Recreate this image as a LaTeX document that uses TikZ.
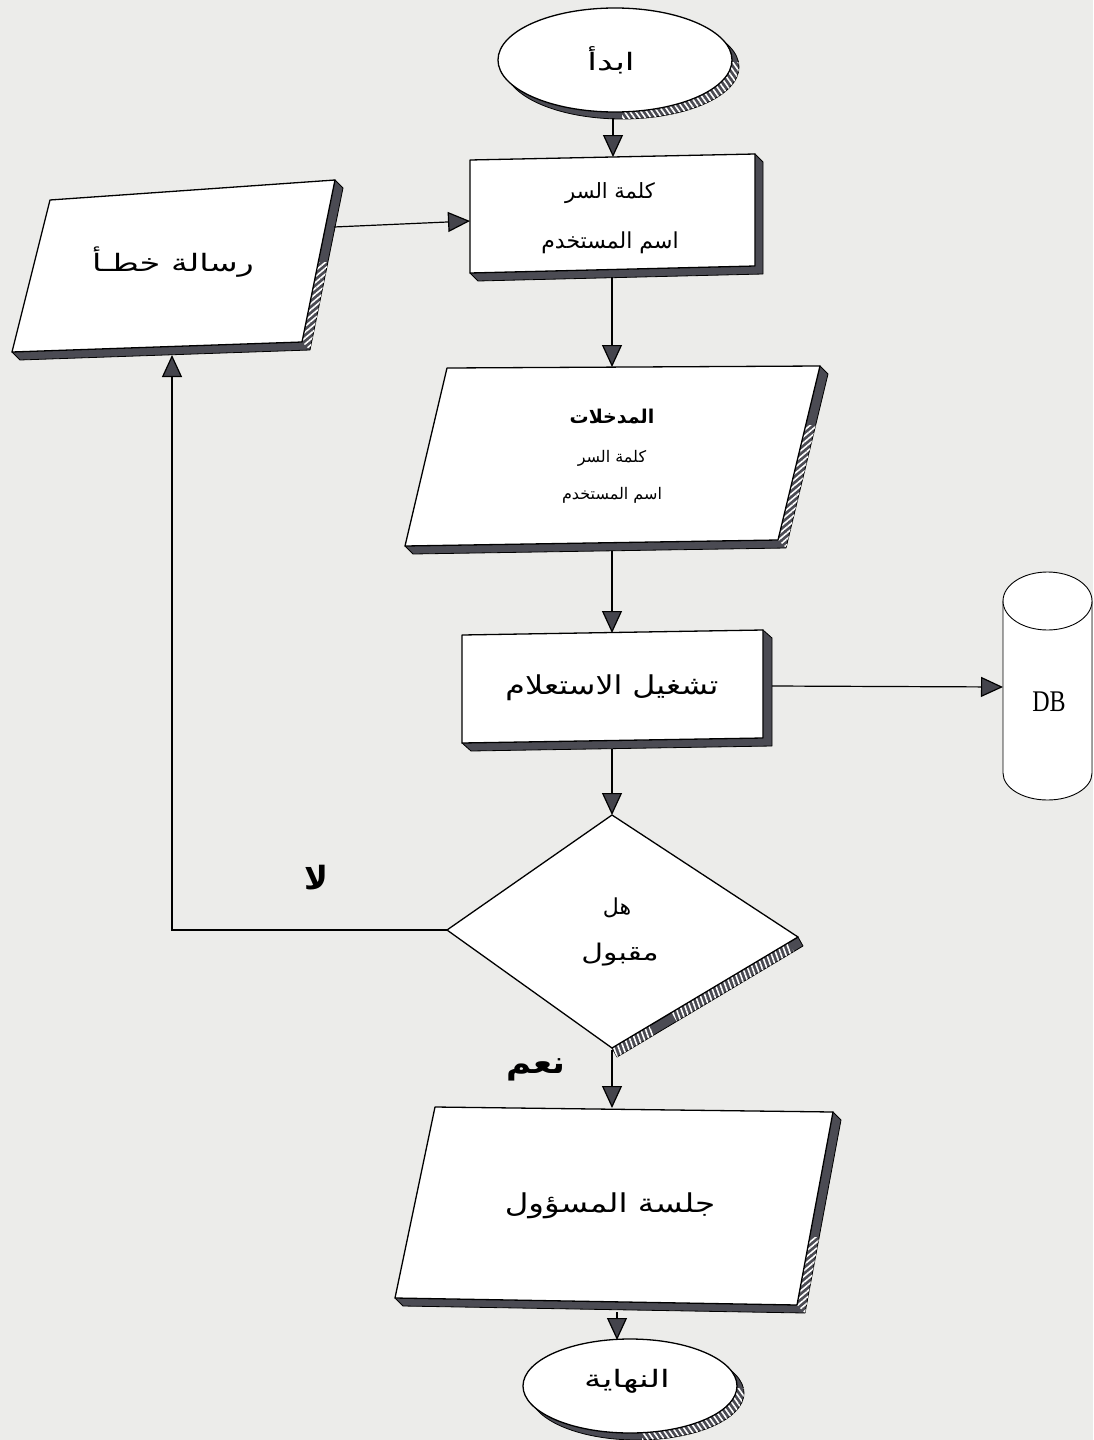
\documentclass[tikz,border=0pt]{standalone}
\usepackage{fontspec}
\setmainfont{Liberation Serif}
\newfontfamily\arabicfont[Script=Arabic]{DejaVu Sans}
\TeXXeTstate=1
\usetikzlibrary{arrows.meta,patterns.meta,calc}
\definecolor{pagebg}{HTML}{ECECEA}
\definecolor{shd}{HTML}{4B4B53}
\definecolor{tipfill}{HTML}{44444C}
\newcommand\fs[1]{\fontsize{#1}{#1}\arabicfont}
\begin{document}
\begin{tikzpicture}[x=1pt,y=-1pt,
  box/.style={draw=black,line width=1.3pt,fill=white,line join=round},
  extr/.style={fill=shd,draw=black,line width=0.8pt,line join=round},
  hatch/.style={pattern={Lines[angle=#1,distance=4.5pt,line width=1.6pt]},pattern color=white},
  conn/.style={draw=black,line width=1.2pt},
  arr/.style={conn,-{Triangle[length=22pt,width=20pt,fill=tipfill]}},
  lbl/.style={inner sep=0pt,text=black}]
\fill[pagebg] (0,0) rectangle (1093,1440);
\useasboundingbox (0,0) rectangle (1093,1440);

% ---------- start ellipse
\coordinate (sC) at (615,60);
\fill[extr] ($(sC)+(7,7)$) ellipse [x radius=117pt, y radius=52pt];
\begin{scope}
  \clip ($(sC)+(7,7)$) ellipse [x radius=117pt, y radius=52pt];
  \fill[hatch=125] (622,62) rectangle (745,125);
\end{scope}
\draw[box] (sC) ellipse [x radius=117pt, y radius=52pt];
\node[lbl,xscale=1.45] (tStart) at (611,60) {\fs{24pt}\beginR ابدأ\endR};
\coordinate (sB) at (613,118);

% ---------- box 1
\coordinate (b1TL) at (470,160);
\coordinate (b1TR) at (755,154);
\coordinate (b1BR) at (755,266);
\coordinate (b1BL) at (470,273);
\filldraw[extr] (b1TR) -- ($(b1TR)+(8,8)$) -- ($(b1BR)+(8,8)$) -- ($(b1BL)+(8,8)$) -- (b1BL) -- cycle;
\draw[box] (b1TL) -- (b1TR) -- (b1BR) -- (b1BL) -- cycle;
\node[lbl] (t1a) at (610,193) {\fs{21pt}\beginR كلمة السر\endR};
\node[lbl] (t1b) at (610,243) {\fs{22pt}\beginR اسم المستخدم\endR};
\coordinate (b1N) at (613,157);
\coordinate (b1S) at (612,277);
\coordinate (b1W) at (470,221);

% ---------- error parallelogram
\coordinate (eTL) at (50,200);
\coordinate (eTR) at (335,180);
\coordinate (eBR) at (302,342);
\coordinate (eBL) at (12,352);
\filldraw[extr] (eTR) -- ($(eTR)+(8,8)$) -- ($(eBR)+(8,8)$) -- ($(eBL)+(8,8)$) -- (eBL) -- cycle;
\begin{scope}
  \clip (eTR) -- ($(eTR)+(8,8)$) -- ($(eBR)+(8,8)$) -- (eBR) -- cycle;
  \fill[hatch=40] (290,262) rectangle (352,365);
\end{scope}
\draw[box] (eTL) -- (eTR) -- (eBR) -- (eBL) -- cycle;
\node[lbl,xscale=1.4] (tErr) at (173,262) {\fs{24pt}\beginR رسالة خطـأ\endR};
\coordinate (errE) at (334,227);
\coordinate (errS) at (172,355);

% ---------- inputs parallelogram
\coordinate (iTL) at (447,368);
\coordinate (iTR) at (820,366);
\coordinate (iBR) at (778,540);
\coordinate (iBL) at (405,546);
\filldraw[extr] (iTR) -- ($(iTR)+(8,8)$) -- ($(iBR)+(8,8)$) -- ($(iBL)+(8,8)$) -- (iBL) -- cycle;
\begin{scope}
  \clip (iTR) -- ($(iTR)+(8,8)$) -- ($(iBR)+(8,8)$) -- (iBR) -- cycle;
  \fill[hatch=40] (770,425) rectangle (835,560);
\end{scope}
\draw[box] (iTL) -- (iTR) -- (iBR) -- (iBL) -- cycle;
\node[lbl] (tInA) at (612,417) {\fs{19pt}\bfseries\beginR المدخلات\endR};
\node[lbl] (tInB) at (612,458) {\fs{16pt}\beginR كلمة السر\endR};
\node[lbl] (tInC) at (612,495) {\fs{16pt}\beginR اسم المستخدم\endR};
\coordinate (inN) at (612,367);
\coordinate (inS) at (612,551);

% ---------- query box
\coordinate (qTL) at (462,635);
\coordinate (qTR) at (763,630);
\coordinate (qBR) at (763,738);
\coordinate (qBL) at (462,743);
\filldraw[extr] (qTR) -- ($(qTR)+(9,8)$) -- ($(qBR)+(9,8)$) -- ($(qBL)+(9,8)$) -- (qBL) -- cycle;
\draw[box] (qTL) -- (qTR) -- (qBR) -- (qBL) -- cycle;
\node[lbl,xscale=1.22] (tQ) at (612,688) {\fs{26pt}\beginR تشغيل الاستعلام\endR};
\coordinate (qN) at (612,633);
\coordinate (qS) at (612,749);
\coordinate (qE) at (772,686);

% ---------- DB cylinder
\filldraw[draw=black,line width=0.9pt,fill=white] (1003,601) -- (1003,773)
   arc[start angle=180,end angle=360,x radius=44.5pt,y radius=27pt] -- (1092,601) -- cycle;
\draw[draw=black,line width=0.9pt,fill=white] (1047.5,601) ellipse [x radius=44.5pt, y radius=29pt];
\node[lbl,yscale=1.25] (tDB) at (1049,702) {\fontsize{24pt}{24pt}\selectfont DB};
\coordinate (dbW) at (1003,687);

% ---------- decision diamond
\coordinate (dT) at (612,815);
\coordinate (dR) at (798,937);
\coordinate (dB) at (612,1048);
\coordinate (dL) at (447,930);
\filldraw[extr] (dR) -- ($(dR)+(5,9)$) -- ($(dB)+(5,9)$) -- (dB) -- cycle;
\begin{scope}
  \clip (dR) -- ($(dR)+(5,9)$) -- ($(dB)+(5,9)$) -- (dB) -- cycle;
  \fill[hatch=110] ($(dR)!0.05!(dB)$) -- ($(dR)!0.68!(dB)$) -- ($(dR)!0.68!(dB)+(8,14)$) -- ($(dR)!0.05!(dB)+(8,14)$) -- cycle;
  \fill[hatch=110] ($(dR)!0.80!(dB)$) -- (dB) -- ($(dB)+(8,14)$) -- ($(dR)!0.80!(dB)+(8,14)$) -- cycle;
\end{scope}
\draw[box] (dT) -- (dR) -- (dB) -- (dL) -- cycle;
\node[lbl] (tD1) at (617,908) {\fs{22pt}\beginR هل\endR};
\node[lbl,xscale=1.3] (tD2) at (620,955) {\fs{23pt}\beginR مقبول\endR};
\coordinate (dBot) at (612,1050);

% ---------- admin parallelogram
\coordinate (aTL) at (435,1107);
\coordinate (aTR) at (833,1112);
\coordinate (aBR) at (797,1305);
\coordinate (aBL) at (395,1298);
\filldraw[extr] (aTR) -- ($(aTR)+(8,8)$) -- ($(aBR)+(8,8)$) -- ($(aBL)+(8,8)$) -- (aBL) -- cycle;
\begin{scope}
  \clip (aTR) -- ($(aTR)+(8,8)$) -- ($(aBR)+(8,8)$) -- (aBR) -- cycle;
  \fill[hatch=40] (785,1237) rectangle (850,1320);
\end{scope}
\draw[box] (aTL) -- (aTR) -- (aBR) -- (aBL) -- cycle;
\node[lbl,xscale=1.25] (tA) at (610,1206) {\fs{26pt}\beginR جلسة المسؤول\endR};
\coordinate (aN) at (612,1108);
\coordinate (aS) at (617,1312);

% ---------- end ellipse
\coordinate (eC) at (630,1386);
\fill[extr] ($(eC)+(7,7)$) ellipse [x radius=107pt, y radius=47pt];
\begin{scope}
  \clip ($(eC)+(7,7)$) ellipse [x radius=107pt, y radius=47pt];
  \fill[hatch=125] (642,1388) rectangle (750,1445);
\end{scope}
\draw[box] (eC) ellipse [x radius=107pt, y radius=47pt];
\node[lbl,xscale=1.45] (tEnd) at (627,1381) {\fs{24pt}\beginR النهاية\endR};
\coordinate (eN) at (617,1340);

% ---------- labels
\node[lbl] (tNo) at (316,878) {\fs{32pt}\bfseries\beginR لا\endR};
\node[lbl,xscale=1.1] (tYes) at (536,1070) {\fs{31pt}\bfseries\beginR نعم\endR};

% ---------- connectors
\draw[arr] (sB) -- (b1N);
\draw[arr] (b1S) -- (inN);
\draw[arr] (inS) -- (qN);
\draw[arr] (qS) -- (dT);
\draw[arr] (dBot) -- (aN);
\draw[arr] (aS) -- (eN);
\draw[arr] (errE) -- (b1W);
\draw[arr] (qE) -- (dbW);
\draw[arr] (dL) -| (errS);
\end{tikzpicture}
\end{document}
